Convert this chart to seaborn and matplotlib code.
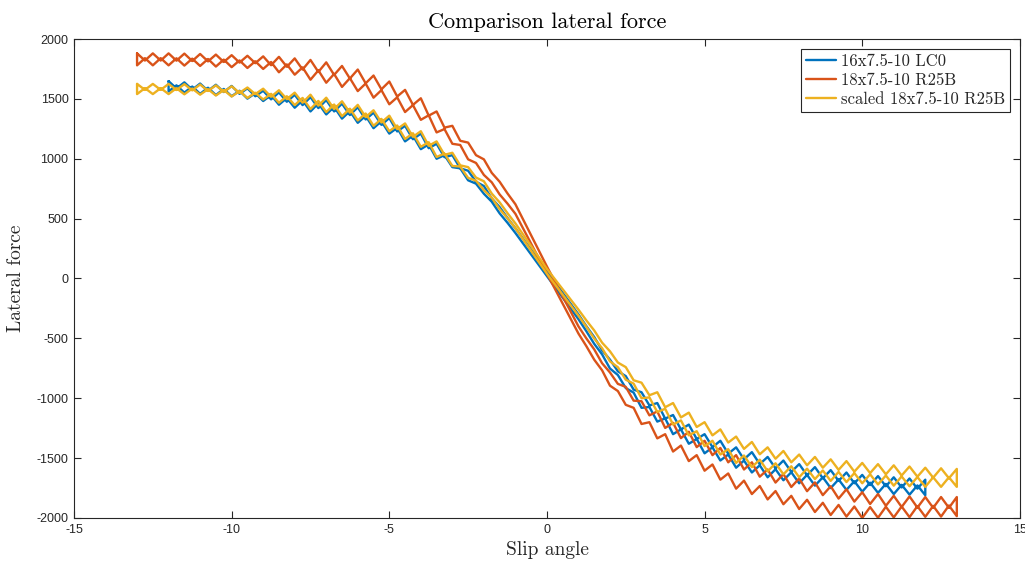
#!/usr/bin/env python3
"""Comparison lateral force: slip-angle sweep loops for three tyres."""
import matplotlib
matplotlib.use("Agg")
import matplotlib.pyplot as plt
import pandas as pd
import seaborn as sns

# ---- data (one value per quarter degree) ----
SLIP_WIDE = [
    -13.0, -12.75, -12.5, -12.25, -12.0, -11.75, -11.5, -11.25, -11.0,
    -10.75, -10.5, -10.25, -10.0, -9.75, -9.5, -9.25, -9.0,
    -8.75, -8.5, -8.25, -8.0, -7.75, -7.5, -7.25, -7.0,
    -6.75, -6.5, -6.25, -6.0, -5.75, -5.5, -5.25, -5.0,
    -4.75, -4.5, -4.25, -4.0, -3.75, -3.5, -3.25, -3.0,
    -2.75, -2.5, -2.25, -2.0, -1.75, -1.5, -1.25, -1.0,
    -0.75, -0.5, -0.25, 0.0, 0.25, 0.5, 0.75, 1.0,
    1.25, 1.5, 1.75, 2.0, 2.25, 2.5, 2.75, 3.0,
    3.25, 3.5, 3.75, 4.0, 4.25, 4.5, 4.75, 5.0,
    5.25, 5.5, 5.75, 6.0, 6.25, 6.5, 6.75, 7.0,
    7.25, 7.5, 7.75, 8.0, 8.25, 8.5, 8.75, 9.0,
    9.25, 9.5, 9.75, 10.0, 10.25, 10.5, 10.75, 11.0,
    11.25, 11.5, 11.75, 12.0, 12.25, 12.5, 12.75, 13.0,
]
SLIP_LC0 = SLIP_WIDE[4:-4]  # LC0 sweep only runs -12 .. 12 deg

R25B_UP = [
    1880, 1820, 1880, 1820, 1880,
    1819, 1878, 1816, 1875,
    1813, 1870, 1808, 1865,
    1803, 1860, 1798, 1855,
    1781, 1851, 1768, 1838,
    1745, 1825, 1725, 1805,
    1700, 1775, 1670, 1745,
    1630, 1695, 1580, 1645,
    1520, 1575, 1450, 1505,
    1360, 1395, 1260, 1275,
    1150, 1135, 1030, 995,
    882, 808, 710, 620,
    490, 360, 230, 100,
    -25, -150, -275, -400,
    -500, -592, -708, -785,
    -880, -905, -1020, -1025,
    -1143, -1110, -1248, -1205,
    -1333, -1280, -1408, -1355,
    -1475, -1415, -1535, -1475,
    -1595, -1535, -1655, -1595,
    -1704, -1633, -1741, -1670,
    -1776, -1703, -1809, -1735,
    -1838, -1760, -1863, -1785,
    -1883, -1800, -1898, -1815,
    -1908, -1820, -1913, -1825,
    -1915, -1825, -1915, -1825,
]
R25B_DOWN = [
    1780, 1840, 1780, 1840, 1780,
    1839, 1778, 1836, 1775,
    1833, 1770, 1828, 1765,
    1821, 1758, 1814, 1750,
    1808, 1722, 1788, 1702,
    1763, 1660, 1738, 1635,
    1708, 1600, 1673, 1565,
    1628, 1510, 1573, 1455,
    1513, 1390, 1448, 1325,
    1363, 1220, 1248, 1125,
    1115, 995, 965, 865,
    803, 702, 625, 540,
    415, 290, 165, 40,
    -85, -210, -335, -460,
    -565, -678, -767, -895,
    -940, -1055, -1080, -1215,
    -1200, -1335, -1300, -1445,
    -1395, -1525, -1475, -1605,
    -1553, -1680, -1628, -1755,
    -1688, -1800, -1733, -1845,
    -1775, -1885, -1815, -1925,
    -1848, -1950, -1873, -1975,
    -1891, -1988, -1904, -2000,
    -1909, -1998, -1906, -1995,
    -1904, -1993, -1901, -1990,
    -1899, -1988, -1896, -1985,
]
SCALED_UP = [
    1625, 1575, 1625, 1575, 1625,
    1574, 1623, 1571, 1620,
    1566, 1613, 1559, 1605,
    1550, 1595, 1540, 1585,
    1518, 1572, 1498, 1552,
    1468, 1535, 1443, 1510,
    1415, 1480, 1385, 1450,
    1348, 1405, 1303, 1360,
    1248, 1295, 1183, 1230,
    1108, 1145, 1033, 1050,
    945, 930, 843, 812,
    709, 636, 545, 460,
    365, 270, 175, 80,
    -5, -90, -175, -260,
    -350, -434, -536, -608,
    -702, -740, -850, -870,
    -975, -950, -1075, -1040,
    -1160, -1120, -1240, -1200,
    -1310, -1260, -1370, -1320,
    -1423, -1365, -1468, -1410,
    -1505, -1440, -1535, -1470,
    -1560, -1490, -1580, -1510,
    -1598, -1525, -1613, -1540,
    -1625, -1550, -1635, -1560,
    -1645, -1570, -1655, -1580,
    -1663, -1585, -1668, -1590,
]
SCALED_DOWN = [
    1540, 1590, 1540, 1590, 1540,
    1589, 1538, 1586, 1535,
    1581, 1528, 1574, 1520,
    1564, 1508, 1551, 1495,
    1542, 1468, 1522, 1448,
    1508, 1415, 1483, 1390,
    1453, 1355, 1418, 1320,
    1378, 1275, 1333, 1230,
    1278, 1165, 1213, 1100,
    1138, 1015, 1043, 940,
    935, 840, 817, 738,
    674, 579, 503, 420,
    325, 230, 135, 40,
    -48, -135, -223, -310,
    -403, -501, -582, -692,
    -741, -845, -878, -1000,
    -993, -1115, -1088, -1220,
    -1185, -1310, -1275, -1400,
    -1355, -1470, -1425, -1540,
    -1478, -1575, -1513, -1610,
    -1543, -1635, -1568, -1660,
    -1588, -1675, -1603, -1690,
    -1615, -1700, -1625, -1710,
    -1635, -1720, -1645, -1730,
    -1653, -1735, -1658, -1740,
    -1660, -1740, -1660, -1740,
]
LC0_UP = [
    1648,
    1587, 1638, 1577, 1628,
    1567, 1618, 1557, 1608,
    1542, 1588, 1522, 1568,
    1496, 1554, 1476, 1534,
    1448, 1515, 1423, 1490,
    1395, 1460, 1365, 1430,
    1328, 1385, 1283, 1340,
    1228, 1275, 1163, 1210,
    1088, 1125, 1013, 1030,
    920, 900, 808, 772,
    669, 596, 505, 420,
    330, 240, 150, 60,
    -30, -120, -210, -300,
    -398, -489, -599, -678,
    -775, -815, -928, -950,
    -1060, -1040, -1170, -1140,
    -1260, -1220, -1340, -1300,
    -1408, -1355, -1463, -1410,
    -1510, -1450, -1550, -1490,
    -1585, -1520, -1615, -1550,
    -1643, -1575, -1668, -1600,
    -1690, -1620, -1710, -1640,
    -1725, -1650, -1735, -1660,
    -1745, -1670, -1755, -1680,
]
LC0_DOWN = [
    1562,
    1613, 1552, 1603, 1542,
    1593, 1532, 1583, 1522,
    1568, 1502, 1548, 1482,
    1532, 1451, 1507, 1426,
    1488, 1395, 1463, 1370,
    1433, 1335, 1398, 1300,
    1358, 1255, 1313, 1210,
    1258, 1145, 1193, 1080,
    1120, 1000, 1030, 930,
    920, 820, 792, 708,
    641, 544, 465, 380,
    290, 200, 110, 20,
    -70, -160, -250, -340,
    -440, -546, -634, -752,
    -806, -915, -953, -1080,
    -1073, -1195, -1168, -1300,
    -1260, -1380, -1340, -1460,
    -1410, -1520, -1470, -1580,
    -1520, -1620, -1560, -1660,
    -1593, -1685, -1618, -1710,
    -1640, -1730, -1660, -1750,
    -1678, -1765, -1693, -1780,
    -1705, -1790, -1715, -1800,
    -1723, -1805, -1728, -1810,
]

TYRES = ["16x7.5-10 LC0", "18x7.5-10 R25B", "scaled 18x7.5-10 R25B"]
COLORS = ["#0072BD", "#D95319", "#EDB120"]


def sweep_loop(slip, up, down, name):
    """Outbound branch, return branch, then close the loop."""
    x = list(slip) + list(slip[::-1]) + [slip[0]]
    y = list(up) + list(down[::-1]) + [up[0]]
    return pd.DataFrame({"slip": x, "force": y, "tyre": name})


def main() -> None:
    df = pd.concat([
        sweep_loop(SLIP_LC0, LC0_UP, LC0_DOWN, TYRES[0]),
        sweep_loop(SLIP_WIDE, R25B_UP, R25B_DOWN, TYRES[1]),
        sweep_loop(SLIP_WIDE, SCALED_UP, SCALED_DOWN, TYRES[2]),
    ], ignore_index=True)

    sns.set_theme(style="ticks")
    plt.rcParams["font.family"] = ["Liberation Sans", "DejaVu Sans"]
    plt.rcParams["axes.unicode_minus"] = False
    serif = "cmr10"
    ink = "#262626"

    fig = plt.figure(figsize=(10.25, 5.62), dpi=100)
    ax = fig.add_axes([0.0722, 0.0783, 0.9228, 0.8523])

    sns.lineplot(
        data=df, x="slip", y="force", hue="tyre", hue_order=TYRES,
        palette=dict(zip(TYRES, COLORS)), sort=False, estimator=None,
        linewidth=1.7, solid_joinstyle="round", ax=ax,
    )

    ax.set_xlim(-15, 15)
    ax.set_ylim(-2000, 2000)
    ax.set_xticks(range(-15, 16, 5))
    ax.set_yticks(range(-2000, 2001, 500))
    ax.tick_params(direction="in", top=True, right=True, length=5, width=0.8,
                   labelsize=9, color=ink, labelcolor=ink, pad=4)
    for side in ax.spines.values():
        side.set_visible(True)
        side.set_color(ink)
        side.set_linewidth(0.8)

    ax.set_title("Comparison lateral force", fontfamily=serif, fontsize=16,
                 color="black", pad=8)
    ax.set_xlabel("Slip angle", fontfamily=serif, fontsize=14, color=ink,
                  labelpad=4)
    ax.set_ylabel("Lateral force", fontfamily=serif, fontsize=14, color=ink,
                  labelpad=8)

    sns.move_legend(
        ax, "upper right", bbox_to_anchor=(1.0, 1.0), title=None,
        frameon=True, fancybox=False, edgecolor=ink, framealpha=1,
        borderaxespad=0.6, handlelength=1.8, handletextpad=0.3,
        labelspacing=0.2, borderpad=0.3,
        prop={"family": serif, "size": 12},
    )
    ax.get_legend().get_frame().set_linewidth(0.8)

    fig.savefig("out.png", dpi=100)
    plt.close(fig)


if __name__ == "__main__":
    main()
